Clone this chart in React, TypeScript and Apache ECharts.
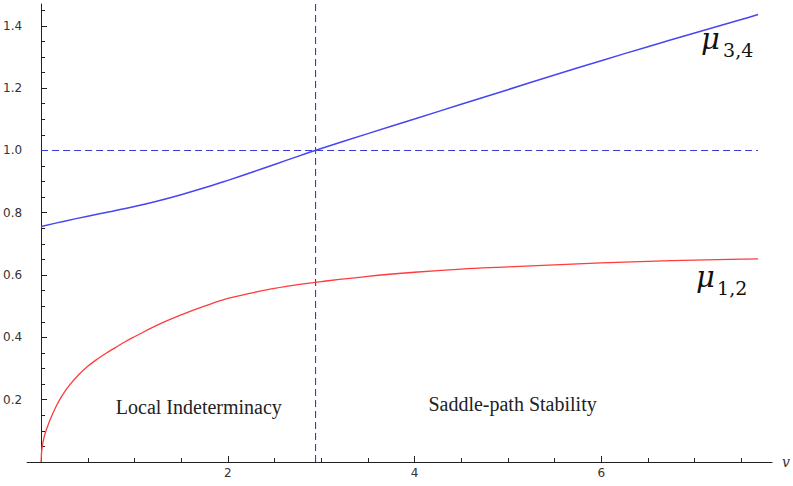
import React, { useEffect, useRef } from "react";
import * as echarts from "echarts";

// ---- data ----
const v12Values = [0, 0.005, 0.01, 0.02, 0.035, 0.05, 0.075, 0.1, 0.15, 0.2, 0.25, 0.3, 0.4, 0.5, 0.6, 0.7, 0.8, 0.9, 1, 1.25, 1.5, 1.75, 2, 2.25, 2.5, 2.75, 3, 3.5, 4, 4.5, 5, 5.5, 6, 6.5, 7, 7.5, 7.68];
const mu12Values = [0, 0.031, 0.044, 0.063, 0.083, 0.098, 0.119, 0.138, 0.172, 0.2, 0.224, 0.245, 0.279, 0.307, 0.33, 0.35, 0.368, 0.386, 0.402, 0.44, 0.472, 0.5, 0.525, 0.542, 0.557, 0.569, 0.579, 0.596, 0.609, 0.619, 0.626, 0.633, 0.639, 0.644, 0.648, 0.651, 0.652];
const v34Values = [0, 0.25, 0.5, 0.75, 1, 1.25, 1.5, 1.75, 2, 2.25, 2.5, 2.75, 3, 3.5, 4, 4.5, 5, 5.5, 6, 6.5, 7, 7.5, 7.68];
const mu34Values = [0.756, 0.773, 0.789, 0.804, 0.82, 0.838, 0.858, 0.88, 0.904, 0.929, 0.955, 0.981, 1.006, 1.054, 1.101, 1.148, 1.195, 1.242, 1.288, 1.333, 1.377, 1.42, 1.436];

const xMajorTicks = [2, 4, 6];
const xMinorTicks = [0.5, 1, 1.5, 2.5, 3, 3.5, 4.5, 5, 5.5, 6.5, 7, 7.5];
const yMajorTicks = [0.2, 0.4, 0.6, 0.8, 1.0, 1.2, 1.4];
const yMinorTicks = [0.05, 0.1, 0.15, 0.25, 0.3, 0.35, 0.45, 0.5, 0.55, 0.65, 0.7, 0.75, 0.85, 0.9, 0.95, 1.05, 1.1, 1.15, 1.25, 1.3, 1.35, 1.45];

const thresholdV = 2.94;
const unitLevel = 1.0;
const regionNames = ["Local Indeterminacy", "Saddle-path Stability"];
const seriesNames = ["μ1,2", "μ3,4"];
const xAxisName = "v";

const X_MIN = -0.15;
const X_MAX = 7.83;
const Y_MIN = 0;
const Y_MAX = 1.47;

export default function App() {
  const ref = useRef<HTMLDivElement>(null);

  useEffect(() => {
    if (!ref.current) return;
    const chart = echarts.init(ref.current, null, { renderer: "svg" });

    const axisColor = "#222";
    const dashColor = "#3a3ad2";
    const tickFont = { fontFamily: "DejaVu Sans", fontSize: 12, color: "#333" };

    const mu12Data = v12Values.map((v, i) => [v, mu12Values[i]]);
    const mu34Data = v34Values.map((v, i) => [v, mu34Values[i]]);
    const vEnd = v34Values[v34Values.length - 1];

    const baseX = {
      type: "value",
      min: X_MIN,
      max: X_MAX,
      position: "bottom",
      splitLine: { show: false },
    };
    const baseY = {
      type: "value",
      min: Y_MIN,
      max: Y_MAX,
      position: "left",
      splitLine: { show: false },
    };

    const dashStyle = { color: dashColor, width: 1.1, type: [7, 4] };

    chart.setOption({
      animation: false,
      backgroundColor: "#fff",
      grid: { left: 23, right: 18, top: 4, bottom: 24, containLabel: false },
      xAxis: [
        {
          ...baseX,
          name: xAxisName,
          nameLocation: "end",
          nameGap: 10,
          nameTextStyle: { fontFamily: "DejaVu Serif", fontStyle: "italic", fontSize: 14, color: "#333", verticalAlign: "middle" },
          axisLine: { show: true, onZero: true, onZeroAxisIndex: 0, lineStyle: { color: axisColor, width: 1 } },
          axisTick: { show: true, inside: true, length: 6, customValues: xMajorTicks, lineStyle: { color: axisColor } },
          axisLabel: { show: true, customValues: xMajorTicks, margin: 5, ...tickFont, formatter: (v: number) => String(v) },
        },
        {
          ...baseX,
          axisLine: { show: false, onZero: true, onZeroAxisIndex: 0 },
          axisTick: { show: true, inside: true, length: 4, customValues: xMinorTicks, lineStyle: { color: axisColor } },
          axisLabel: { show: false },
        },
      ],
      yAxis: [
        {
          ...baseY,
          axisLine: { show: true, onZero: true, onZeroAxisIndex: 0, lineStyle: { color: axisColor, width: 1 } },
          axisTick: { show: true, inside: true, length: 6, customValues: yMajorTicks, lineStyle: { color: axisColor } },
          axisLabel: { show: true, customValues: yMajorTicks, margin: 5, ...tickFont, formatter: (v: number) => v.toFixed(1) },
        },
        {
          ...baseY,
          axisLine: { show: false, onZero: true, onZeroAxisIndex: 0 },
          axisTick: { show: true, inside: true, length: 4, customValues: yMinorTicks, lineStyle: { color: axisColor } },
          axisLabel: { show: false },
        },
      ],
      series: [
        {
          name: "threshold",
          type: "line",
          data: [
            [thresholdV, Y_MIN],
            [thresholdV, Y_MAX],
          ],
          showSymbol: false,
          silent: true,
          lineStyle: dashStyle,
          z: 2,
        },
        {
          name: "unit",
          type: "line",
          data: [
            [0, unitLevel],
            [vEnd, unitLevel],
          ],
          showSymbol: false,
          silent: true,
          lineStyle: dashStyle,
          z: 2,
        },
        {
          name: seriesNames[0],
          type: "line",
          data: mu12Data,
          showSymbol: false,
          smooth: 0.4,
          lineStyle: { color: "#ff3b3b", width: 1.3 },
          z: 3,
        },
        {
          name: seriesNames[1],
          type: "line",
          data: mu34Data,
          showSymbol: false,
          smooth: 0.4,
          lineStyle: { color: "#4646f2", width: 1.5 },
          z: 4,
        },
      ],
    });

    const px = (x: number, y: number) => chart.convertToPixel({ gridIndex: 0 }, [x, y]) as number[];
    const end12 = px(v12Values[v12Values.length - 1], mu12Values[mu12Values.length - 1]);
    const end34 = px(vEnd, mu34Values[mu34Values.length - 1]);
    const local = px(1.69, 0.176);
    const saddle = px(5.05, 0.186);

    const muStyle = { fontFamily: "DejaVu Serif", fontStyle: "italic", fontSize: 29, fill: "#111" };
    const subStyle = { fontFamily: "DejaVu Serif", fontSize: 19, fill: "#111" };
    const regionStyle = { fontFamily: "Liberation Serif", fontSize: 20, fill: "#222" };

    chart.setOption({
      graphic: [
        { type: "text", silent: true, style: { ...muStyle, text: "μ", x: end34[0] - 57, y: end34[1] + 24, align: "left", verticalAlign: "middle" } },
        { type: "text", silent: true, style: { ...subStyle, text: "3,4", x: end34[0] - 35, y: end34[1] + 35, align: "left", verticalAlign: "middle" } },
        { type: "text", silent: true, style: { ...muStyle, text: "μ", x: end12[0] - 62, y: end12[1] + 18, align: "left", verticalAlign: "middle" } },
        { type: "text", silent: true, style: { ...subStyle, text: "1,2", x: end12[0] - 41, y: end12[1] + 29, align: "left", verticalAlign: "middle" } },
        { type: "text", silent: true, style: { ...regionStyle, text: regionNames[0], x: local[0], y: local[1], align: "center", verticalAlign: "middle" } },
        { type: "text", silent: true, style: { ...regionStyle, text: regionNames[1], x: saddle[0], y: saddle[1], align: "center", verticalAlign: "middle" } },
      ],
    });

    return () => chart.dispose();
  }, []);

  return <div ref={ref} style={{ position: "absolute", left: 0, top: 0, width: 793, height: 486 }} />;
}
